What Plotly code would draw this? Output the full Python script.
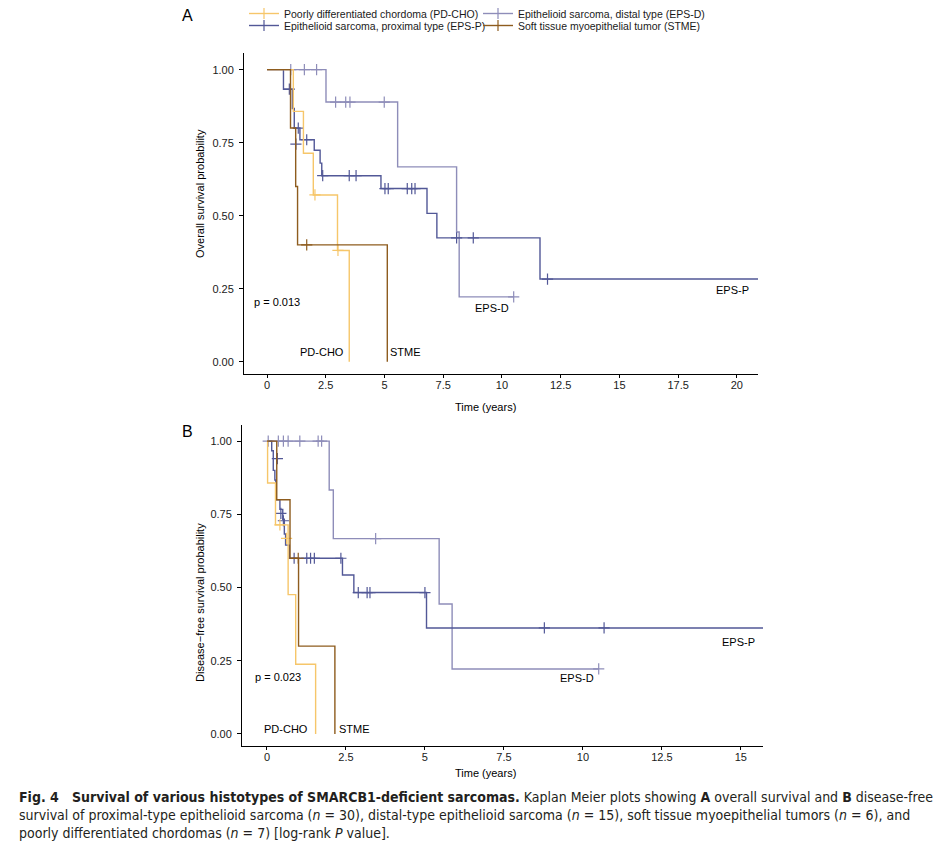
import plotly.graph_objects as go

# ---- panel A: overall survival (years, survival probability) ----
os_pdcho_t = [0, 1.12, 1.55, 1.97, 3.0, 3.5]
os_pdcho_s = [1, 0.857, 0.714, 0.571, 0.381, 0]
os_pdcho_cens_t = [2.04, 3.02]
os_pdcho_cens_s = [0.571, 0.381]

os_stme_t = [0, 1.0, 1.22, 1.3, 5.12]
os_stme_s = [1, 0.8, 0.6, 0.4, 0]
os_stme_cens_t = [1.69]
os_stme_cens_s = [0.4]

os_epsd_t = [0, 2.51, 5.56, 8.07, 8.18, 10.5]
os_epsd_s = [1, 0.889, 0.667, 0.444, 0.222, 0.222]
os_epsd_cens_t = [1.01, 1.59, 2.11, 2.92, 3.35, 3.53, 4.99, 10.5]
os_epsd_cens_s = [1, 1, 1, 0.889, 0.889, 0.889, 0.889, 0.222]

os_epsp_t = [0, 0.70, 1.08, 1.16, 1.40, 2.01, 2.26, 2.33, 4.85, 6.81, 7.23, 11.62, 21]
os_epsp_s = [1, 0.933, 0.867, 0.80, 0.76, 0.724, 0.68, 0.637, 0.593, 0.508, 0.424, 0.283, 0.283]
os_epsp_cens_t = [0.95, 1.23, 1.33, 1.69, 2.37, 3.5, 3.79, 5.02, 5.16, 5.97, 6.16, 6.30, 8.07, 8.78, 11.94]
os_epsp_cens_s = [0.933, 0.745, 0.80, 0.76, 0.637, 0.637, 0.637, 0.593, 0.593, 0.593, 0.593, 0.593, 0.424, 0.424, 0.283]

# ---- panel B: disease-free survival ----
dfs_pdcho_t = [0, 0.02, 0.27, 0.67, 0.91, 1.54]
dfs_pdcho_s = [1, 0.857, 0.714, 0.476, 0.238, 0]
dfs_pdcho_cens_t = [0.41, 0.62]
dfs_pdcho_cens_s = [0.714, 0.668]

dfs_stme_t = [0, 0.31, 0.73, 1.0, 2.15]
dfs_stme_s = [1, 0.8, 0.6, 0.3, 0]
dfs_stme_cens_t = [0.99]
dfs_stme_cens_s = [0.6]

dfs_epsd_t = [0, 1.97, 2.10, 5.45, 5.86, 10.5]
dfs_epsd_s = [1, 0.833, 0.667, 0.444, 0.222, 0.222]
dfs_epsd_cens_t = [0.04, 0.36, 0.52, 0.67, 1.04, 1.62, 1.73, 3.44, 10.5]
dfs_epsd_cens_s = [1, 1, 1, 1, 1, 1, 1, 0.667, 0.222]

dfs_epsp_t = [0, 0.15, 0.20, 0.25, 0.28, 0.41, 0.50, 0.55, 0.59, 0.71, 2.39, 2.75, 5.05, 16]
dfs_epsp_s = [1, 0.967, 0.90, 0.867, 0.80, 0.767, 0.733, 0.683, 0.645, 0.60, 0.543, 0.483, 0.362, 0.362]
dfs_epsp_cens_t = [0.33, 0.44, 0.52, 0.86, 1.26, 1.38, 1.50, 2.34, 2.89, 3.17, 3.26, 5.0, 8.78, 10.67]
dfs_epsp_cens_s = [0.94, 0.753, 0.728, 0.6, 0.6, 0.6, 0.6, 0.6, 0.483, 0.483, 0.483, 0.483, 0.362, 0.362]

legend_names = {
    "PD-CHO": "Poorly differentiated chordoma (PD-CHO)",
    "EPS-D": "Epithelioid sarcoma, distal type (EPS-D)",
    "EPS-P": "Epithelioid sarcoma, proximal type (EPS-P)",
    "STME": "Soft tissue myoepithelial tumor (STME)",
}
colors = {"PD-CHO": "#F6C66A", "EPS-D": "#8E8DB9", "EPS-P": "#525897", "STME": "#8E5C1E"}

os_data = {
    "PD-CHO": (os_pdcho_t, os_pdcho_s, os_pdcho_cens_t, os_pdcho_cens_s),
    "EPS-D": (os_epsd_t, os_epsd_s, os_epsd_cens_t, os_epsd_cens_s),
    "EPS-P": (os_epsp_t, os_epsp_s, os_epsp_cens_t, os_epsp_cens_s),
    "STME": (os_stme_t, os_stme_s, os_stme_cens_t, os_stme_cens_s),
}
dfs_data = {
    "PD-CHO": (dfs_pdcho_t, dfs_pdcho_s, dfs_pdcho_cens_t, dfs_pdcho_cens_s),
    "EPS-D": (dfs_epsd_t, dfs_epsd_s, dfs_epsd_cens_t, dfs_epsd_cens_s),
    "EPS-P": (dfs_epsp_t, dfs_epsp_s, dfs_epsp_cens_t, dfs_epsp_cens_s),
    "STME": (dfs_stme_t, dfs_stme_s, dfs_stme_cens_t, dfs_stme_cens_s),
}

os_xticks = [0, 2.5, 5, 7.5, 10, 12.5, 15, 17.5, 20]
dfs_xticks = [0, 2.5, 5, 7.5, 10, 12.5, 15]
yticks = [0, 0.25, 0.5, 0.75, 1.0]
ytick_labels = ["0.00", "0.25", "0.50", "0.75", "1.00"]

# the page body has an 8px margin, so the figure is drawn a little smaller and
# positions below are given in window pixels
OFF = 8
W, H = 951 - OFF, 847 - OFF
FONT = "Liberation Sans, Arial, sans-serif"


def px(x):
    return (x - OFF) / W


def py(y):
    return 1 - (y - OFF) / H


fig = go.Figure()

draw_order = ["EPS-D", "EPS-P", "PD-CHO", "STME"]
for data, xa, ya in [(os_data, "x", "y"), (dfs_data, "x2", "y2")]:
    for g in draw_order:
        t, s, ct, cs = data[g]
        fig.add_trace(go.Scatter(x=t, y=s, mode="lines", line=dict(color=colors[g], width=1.4, shape="hv"),
                                 xaxis=xa, yaxis=ya, showlegend=False, hoverinfo="skip"))
        fig.add_trace(go.Scatter(x=ct, y=cs, mode="markers",
                                 marker=dict(symbol="cross-thin", size=8, line=dict(color=colors[g], width=1.2)),
                                 xaxis=xa, yaxis=ya, showlegend=False, hoverinfo="skip"))

# legend entries (two rows, like the ggplot legend)
for g, leg in [("PD-CHO", "legend"), ("EPS-D", "legend"), ("EPS-P", "legend2"), ("STME", "legend2")]:
    fig.add_trace(go.Scatter(x=[None], y=[None], mode="lines+markers", name=legend_names[g],
                             line=dict(color=colors[g], width=1.4),
                             marker=dict(symbol="cross-thin", size=8, line=dict(color=colors[g], width=1.2)),
                             xaxis="x", yaxis="y", legend=leg))

axis_common = dict(showline=True, linecolor="black", linewidth=1, ticks="outside",
                   tickcolor="black", showgrid=False, zeroline=False,
                   tickfont=dict(family=FONT, size=11, color="#1a1a1a"))
xcommon = dict(ticklen=3, ticklabelstandoff=-2, **axis_common)
ycommon = dict(ticklen=4, ticklabelstandoff=3, **axis_common)

legend_common = dict(orientation="h", xanchor="left", yanchor="top", itemwidth=30, entrywidth=189,
                     entrywidthmode="pixels", tracegroupgap=0, bgcolor="rgba(0,0,0,0)",
                     font=dict(family=FONT, size=10.5, color="#1a1a1a"))

fig.update_layout(
    width=W, height=H,
    margin=dict(l=0, r=0, t=0, b=0, autoexpand=False),
    paper_bgcolor="white", plot_bgcolor="white",
    font=dict(family=FONT, size=11, color="black"),
    xaxis=dict(domain=[px(244), px(758)], range=[-0.98, 20.9], anchor="y",
               tickvals=os_xticks, ticktext=[f"{v:g}" for v in os_xticks], **xcommon),
    yaxis=dict(domain=[py(374), py(53)], range=[-0.042, 1.057], anchor="x",
               tickvals=yticks, ticktext=ytick_labels, **ycommon),
    xaxis2=dict(domain=[px(242), px(763)], range=[-0.79, 15.7], anchor="y2",
                tickvals=dfs_xticks, ticktext=[f"{v:g}" for v in dfs_xticks], **xcommon),
    yaxis2=dict(domain=[py(746), py(425)], range=[-0.041, 1.055], anchor="x2",
                tickvals=yticks, ticktext=ytick_labels, **ycommon),
    legend=dict(x=px(244), y=py(-1), **legend_common),
    legend2=dict(x=px(244), y=py(11), **legend_common),
)


def paper_text(text, x, y, **kw):
    d = dict(text=text, x=px(x), y=py(y), xref="paper", yref="paper", xanchor="center",
             yanchor="middle", showarrow=False)
    d.update(kw)
    return d


ann = []
ann.append(paper_text("A", 187, 16, font=dict(size=16, family=FONT)))
ann.append(paper_text("B", 187, 431, font=dict(size=16, family=FONT)))
ann.append(paper_text("Time (years)", 485, 407))
ann.append(paper_text("Time (years)", 485, 773))
ann.append(paper_text("Overall survival probability", 200, 194, textangle=-90))
ann.append(paper_text("Disease\u2212free survival probability", 200, 603, textangle=-90))

# p-values
ann.append(dict(text="p = 0.013", x=-0.64, y=0.205, xref="x", yref="y", xanchor="left", showarrow=False))
ann.append(dict(text="p = 0.023", x=-0.45, y=0.196, xref="x2", yref="y2", xanchor="left", showarrow=False))

# group labels
os_labels = [("PD-CHO", 2.32, 0.035), ("STME", 5.9, 0.035), ("EPS-D", 9.57, 0.184), ("EPS-P", 19.8, 0.247)]
dfs_labels = [("PD-CHO", 0.59, 0.016), ("STME", 2.78, 0.016), ("EPS-D", 9.81, 0.19), ("EPS-P", 14.94, 0.315)]
for txt, x, y in os_labels:
    ann.append(dict(text=txt, x=x, y=y, xref="x", yref="y", showarrow=False, font=dict(size=11)))
for txt, x, y in dfs_labels:
    ann.append(dict(text=txt, x=x, y=y, xref="x2", yref="y2", showarrow=False, font=dict(size=11)))

caption = ("<b>Fig. 4   Survival of various histotypes of SMARCB1-deficient sarcomas.</b> Kaplan Meier plots showing "
           "<b>A</b> overall survival and <b>B</b> disease-free<br>survival of proximal-type epithelioid sarcoma "
           "(<i>n</i> = 30), distal-type epithelioid sarcoma (<i>n</i> = 15), soft tissue myoepithelial tumors "
           "(<i>n</i> = 6), and<br>poorly differentiated chordomas (<i>n</i> = 7) [log-rank <i>P</i> value].")
ann.append(paper_text(caption, 17, 787, xanchor="left", yanchor="top", align="left",
                      font=dict(family="Liberation Sans Narrow, DejaVu Sans Condensed, sans-serif", size=14,
                                color="#231F20")))

fig.update_layout(annotations=ann)
fig.write_html("out.html")
